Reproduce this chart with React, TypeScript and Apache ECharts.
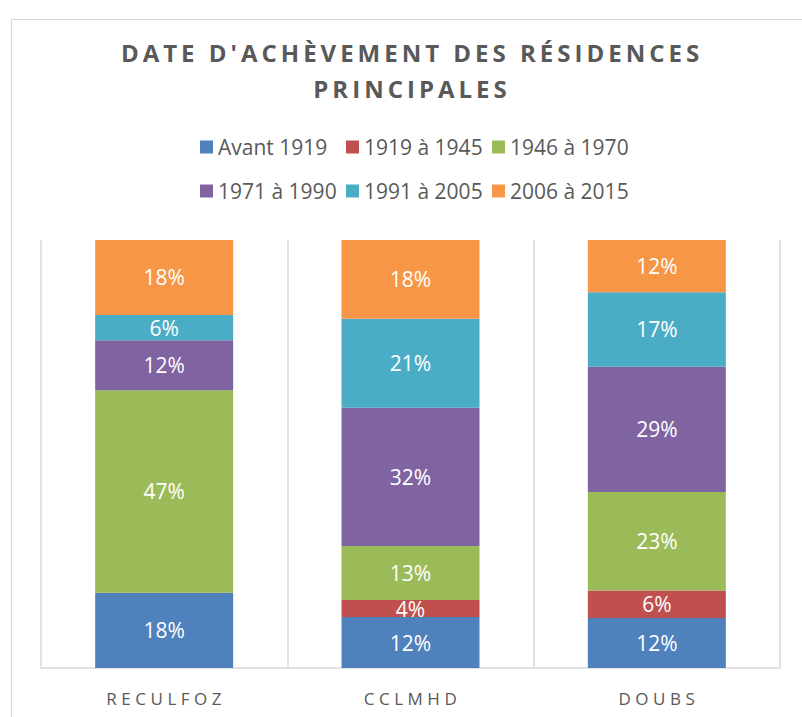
import React, { useEffect, useRef } from "react";
import * as echarts from "echarts";

const categories = ["RECULFOZ", "CCLMHD", "DOUBS"];
const seriesNames = ["Avant 1919", "1919 à 1945", "1946 à 1970", "1971 à 1990", "1991 à 2005", "2006 à 2015"];
const colors = ["#4f81bd", "#c0504d", "#9bbb59", "#8064a2", "#4bacc6", "#f79646"];

// shares (%), bottom to top
const avant1919 = [17.6, 11.9, 11.7];
const from1919to1945 = [0, 4.0, 6.4];
const from1946to1970 = [47.3, 12.6, 23.0];
const from1971to1990 = [11.7, 32.3, 29.3];
const from1991to2005 = [5.9, 20.8, 17.4];
const from2006to2015 = [17.5, 18.4, 12.2];
const seriesValues = [avant1919, from1919to1945, from1946to1970, from1971to1990, from1991to2005, from2006to2015];

const titleLines = ["DATE D'ACHÈVEMENT DES RÉSIDENCES", "PRINCIPALES"];

const FONT = "'Open Sans', 'Noto Sans', sans-serif";
const GREY = "#595959";

export default function App() {
  const ref = useRef<HTMLDivElement>(null);

  useEffect(() => {
    if (!ref.current) return;
    const chart = echarts.init(ref.current, null, { renderer: "svg" });
    chart.setOption({
      animation: false,
      backgroundColor: "#ffffff",
      graphic: [
        {
          type: "rect",
          shape: { x: 11.5, y: 19.5, width: 900, height: 800 },
          style: { fill: "none", stroke: "#d9d9d9", lineWidth: 1 },
          silent: true,
        },
        {
          type: "text",
          x: 412,
          y: 34,
          style: {
            text: titleLines.join("\n"),
            fill: GREY,
            font: `bold 24px ${FONT}`,
            textAlign: "center",
            textVerticalAlign: "top",
            lineHeight: 36,
          },
        },
      ],
      legend: {
        left: 195,
        top: 122,
        width: 450,
        padding: 5,
        itemWidth: 13,
        itemHeight: 13,
        itemGap: 4,
        icon: "rect",
        data: seriesNames,
        textStyle: {
          color: GREY,
          fontSize: 21,
          fontFamily: FONT,
          width: 124,
          lineHeight: 40,
        },
      },
      grid: { left: 41, right: 22, top: 240, bottom: 49, containLabel: false },
      xAxis: {
        type: "category",
        data: categories,
        axisLine: { show: true, lineStyle: { color: "#d9d9d9", width: 1.5 } },
        axisTick: { show: false },
        splitLine: { show: true, lineStyle: { color: "#d9d9d9", width: 1.5 } },
        axisLabel: {
          color: GREY,
          fontSize: 17,
          fontFamily: FONT,
          margin: 22,
        },
      },
      yAxis: {
        type: "value",
        min: 0,
        max: 100,
        show: false,
        splitLine: { show: false },
      },
      series: seriesNames.map((name, i) => ({
        name,
        type: "bar",
        stack: "total",
        barWidth: 138,
        itemStyle: { color: colors[i] },
        label: {
          show: true,
          position: "inside",
          color: "#ffffff",
          fontSize: 21,
          fontFamily: FONT,
          formatter: (p: any) => (p.value > 0 ? `${Math.round(p.value)}%` : ""),
        },
        data: seriesValues[i],
      })),
    });

    const applySpacing = () => {
      const texts = ref.current?.querySelectorAll("text");
      texts?.forEach((t) => {
        const s = (t.textContent || "").trim();
        if (titleLines.includes(s)) {
          t.setAttribute("letter-spacing", "4");
        } else if (categories.includes(s)) {
          t.setAttribute("letter-spacing", "4.5");
          t.setAttribute("dx", "2");
        }
      });
    };
    applySpacing();
    chart.on("finished", applySpacing);

    return () => {
      chart.dispose();
    };
  }, []);

  return (
    <div
      ref={ref}
      style={{ position: "fixed", left: 0, top: 0, width: 802, height: 717, background: "#fff" }}
    />
  );
}
